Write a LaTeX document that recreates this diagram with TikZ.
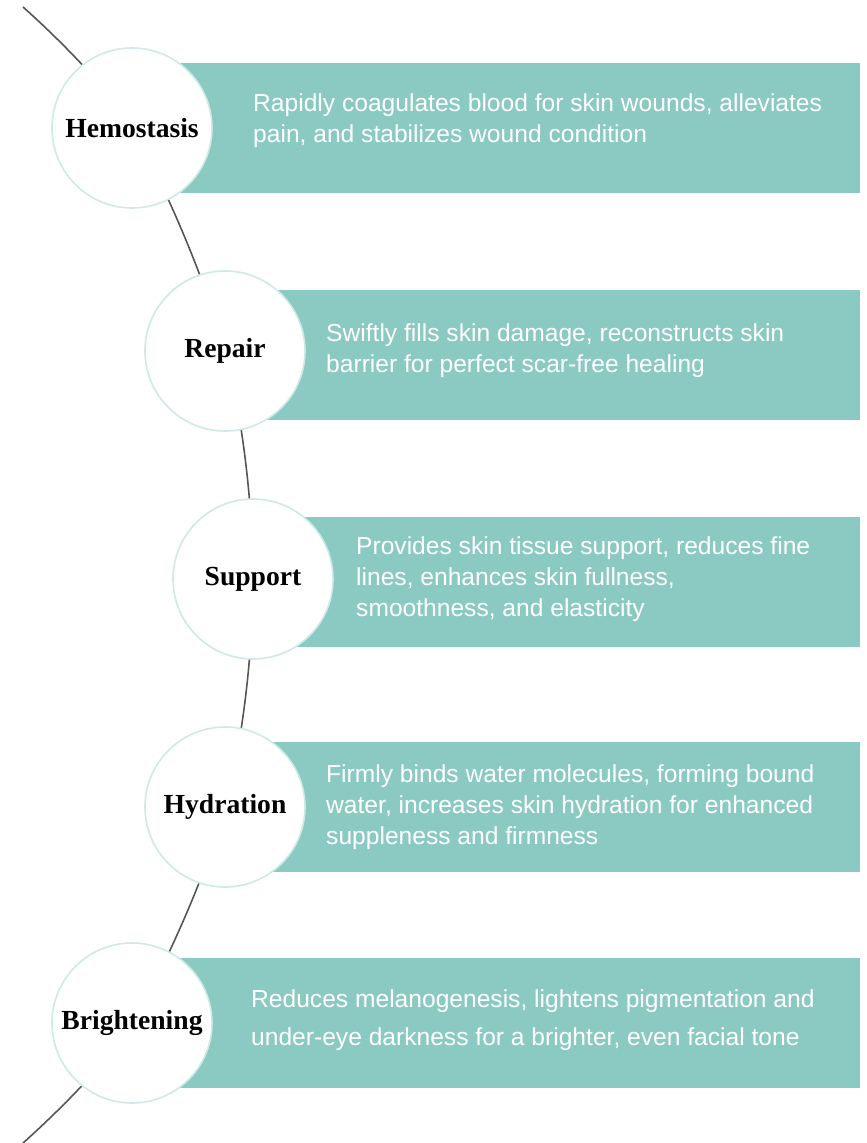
\documentclass[tikz,border=0pt]{standalone}
\usepackage{fontspec}
\setmainfont{Liberation Serif}
\newfontfamily\blurbfont{Liberation Sans}
\usepackage{tikz}
\usetikzlibrary{positioning}
\definecolor{bandteal}{RGB}{139,202,195}
\definecolor{ringteal}{RGB}{205,234,230}
\definecolor{spinegray}{RGB}{90,85,85}
\tikzstyle{stage} = [circle, draw=ringteal, line width=0.8pt, fill=white, minimum size=80pt, inner sep=0pt, font=\fontsize{13.8}{16}\selectfont\bfseries]
\tikzstyle{band} = [rectangle, fill=bandteal, minimum height=65pt, inner sep=0pt, anchor=west]
\tikzstyle{blurb} = [align=left, text=white, inner sep=0pt, font=\blurbfont\fontsize{12.3}{15.5}\selectfont]
\tikzstyle{spine} = [draw=spinegray, line width=0.8pt]

\begin{document}
\begin{tikzpicture}[x=0.5pt, y=-0.5pt]
		\useasboundingbox (0,0) rectangle (866,1143);
		% positions along the arc
		\coordinate (SpineTop) at (23,7);
		\coordinate (HemostasisPos) at (132,128);
		\coordinate (RepairPos) at (225,351);
		\coordinate (SupportPos) at (253,579);
		\coordinate (HydrationPos) at (225,807);
		\coordinate (BrighteningPos) at (132,1023);
		\coordinate (SpineBottom) at (23,1143);
		\draw [spine] plot [smooth, tension=0.55] coordinates {(SpineTop) (HemostasisPos) (RepairPos) (SupportPos) (HydrationPos) (BrighteningPos) (SpineBottom)};
		% bands
		\node (HemostasisBand) [band, minimum width=364pt] at (HemostasisPos) {};
		\node (RepairBand) [band, minimum width=317.5pt, yshift=-2pt] at (RepairPos) {};
		\node (SupportBand) [band, minimum width=303.5pt, yshift=-1.5pt] at (SupportPos) {};
		\node (HydrationBand) [band, minimum width=317.5pt] at (HydrationPos) {};
		\node (BrighteningBand) [band, minimum width=364pt] at (BrighteningPos) {};
		% circles
		\node (Hemostasis) [stage] at (HemostasisPos) {Hemostasis};
		\node (Repair) [stage] at (RepairPos) {Repair};
		\node (Support) [stage] at (SupportPos) {Support};
		\node (Hydration) [stage] at (HydrationPos) {Hydration};
		\node (Brightening) [stage] at (BrighteningPos) {Brightening};
		% texts
		\node (HemostasisText) [blurb, right = 20pt of Hemostasis, yshift=3.5pt] {Rapidly coagulates blood for skin wounds, alleviates\\pain, and stabilizes wound condition};
		\node (RepairText) [blurb, right = 10pt of Repair] {Swiftly fills skin damage, reconstructs skin\\barrier for perfect scar-free healing};
		\node (SupportText) [blurb, right = 11pt of Support] {Provides skin tissue support, reduces fine\\lines, enhances skin fullness,\\smoothness, and elasticity};
		\node (HydrationText) [blurb, right = 10pt of Hydration] {Firmly binds water molecules, forming bound\\water, increases skin hydration for enhanced\\suppleness and firmness};
		\node (BrighteningText) [blurb, right = 19pt of Brightening, yshift=1.5pt, font=\blurbfont\fontsize{12.3}{19}\selectfont] {Reduces melanogenesis, lightens pigmentation and\\under-eye darkness for a brighter, even facial tone};
\end{tikzpicture}
\end{document}
